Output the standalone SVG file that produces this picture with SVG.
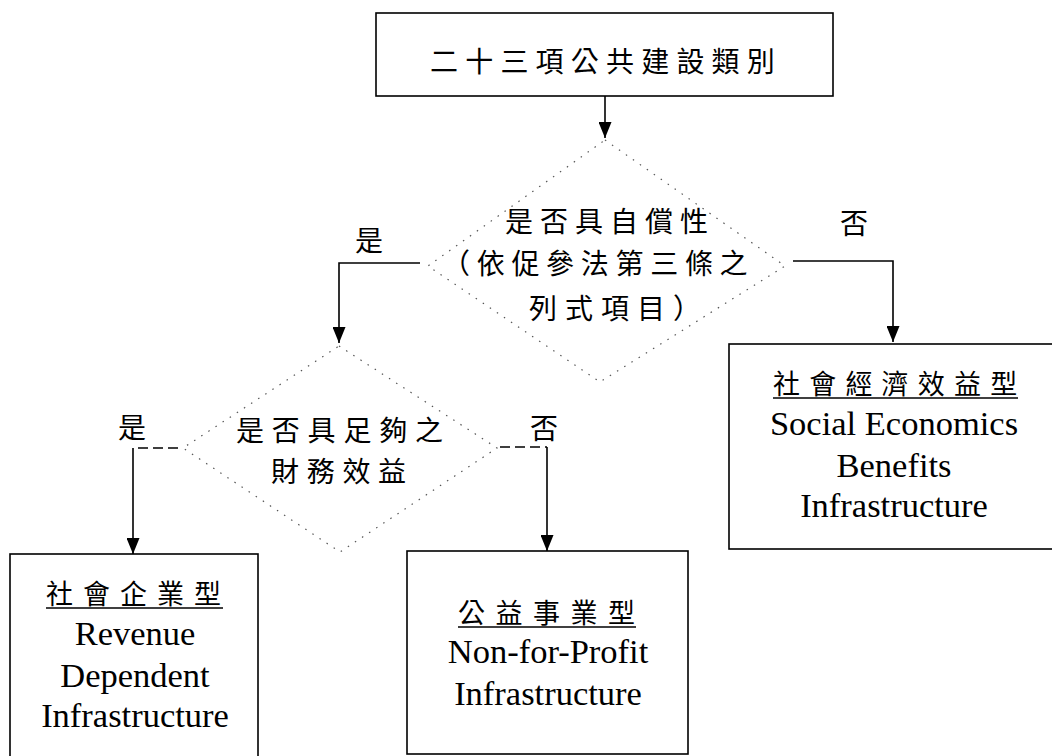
<svg xmlns="http://www.w3.org/2000/svg" width="1052" height="756" viewBox="0 0 1052 756">
<style>
.box{fill:#fff;stroke:#000;stroke-width:1.6}
.dia{fill:none;stroke:#555;stroke-width:1.2;stroke-dasharray:1.5 7}
.cn{fill:#000;font-family:"Noto Sans CJK TC","Noto Sans CJK SC",sans-serif;font-size:28px}
.hd{font-size:27px}
.en{fill:#000;font-family:"Liberation Serif","Times New Roman",serif;font-size:34.5px;text-anchor:middle}
.ul{stroke:#000;stroke-width:1.6}
.conn{fill:none;stroke:#000;stroke-width:1.6}
.dash{stroke-dasharray:10 5}
</style>
<defs>
<marker id="ah" viewBox="0 0 16 13" refX="16" refY="6.5" markerWidth="16" markerHeight="13" markerUnits="userSpaceOnUse" orient="auto">
<path d="M0,0 L16,6.5 L0,13 Z" fill="#000"/>
</marker>
</defs>
<rect width="1052" height="756" fill="#fff"/>

<g id="connectors">
<path class="conn" d="M605,96 V138" marker-end="url(#ah)"/>
<path class="conn" d="M420,263 H339 V343" marker-end="url(#ah)"/>
<path class="conn" d="M793,261 H893 V342" marker-end="url(#ah)"/>
<path class="conn dash" d="M178,448 H133"/>
<path class="conn" d="M133,448 V554" marker-end="url(#ah)"/>
<path class="conn dash" d="M500,447 H547"/>
<path class="conn" d="M547,447 V551" marker-end="url(#ah)"/>
</g>

<g id="top">
<rect class="box" x="376" y="13" width="457" height="83"/>
<text class="cn" x="430" y="72" letter-spacing="7.2">二十三項公共建設類別</text>
</g>

<g id="decision1">
<polygon class="dia" points="605,140 785,266 600,382 428,266"/>
<text class="cn" x="505" y="232" letter-spacing="7">是否具自償性</text>
<text class="cn" x="442" y="274" letter-spacing="6.7">（依促參法第三條之</text>
<text class="cn" x="529" y="319" letter-spacing="8">列式項目）</text>
</g>

<g id="label-yes1"><text class="cn" x="355" y="251">是</text></g>
<g id="label-no1"><text class="cn" x="840" y="234">否</text></g>

<g id="decision2">
<polygon class="dia" points="339,346 497,448 340,552 183,448"/>
<text class="cn" x="236" y="441" letter-spacing="7.8">是否具足夠之</text>
<text class="cn" x="271" y="482" letter-spacing="7.7">財務效益</text>
</g>

<g id="label-yes2"><text class="cn" x="118" y="438">是</text></g>
<g id="label-no2"><text class="cn" x="530" y="439">否</text></g>

<g id="social-econ">
<rect class="box" x="729" y="344" width="340" height="205"/>
<text class="cn hd" x="773" y="394" letter-spacing="9.2">社會經濟效益型</text>
<line class="ul" x1="773" y1="398" x2="1018" y2="398"/>
<text class="en" x="894" y="435">Social Economics</text>
<text class="en" x="894" y="477">Benefits</text>
<text class="en" x="894" y="517">Infrastructure</text>
</g>

<g id="revenue">
<rect class="box" x="10" y="554" width="248" height="220"/>
<text class="cn hd" x="46" y="604" letter-spacing="10">社會企業型</text>
<line class="ul" x1="46" y1="608" x2="223" y2="608"/>
<text class="en" x="135" y="645">Revenue</text>
<text class="en" x="135" y="687">Dependent</text>
<text class="en" x="135" y="727">Infrastructure</text>
</g>

<g id="nonprofit">
<rect class="box" x="407" y="551" width="281" height="203"/>
<text class="cn hd" x="458" y="623" letter-spacing="10.5">公益事業型</text>
<line class="ul" x1="458" y1="627" x2="636" y2="627"/>
<text class="en" x="548" y="663">Non-for-Profit</text>
<text class="en" x="548" y="705">Infrastructure</text>
</g>
</svg>
